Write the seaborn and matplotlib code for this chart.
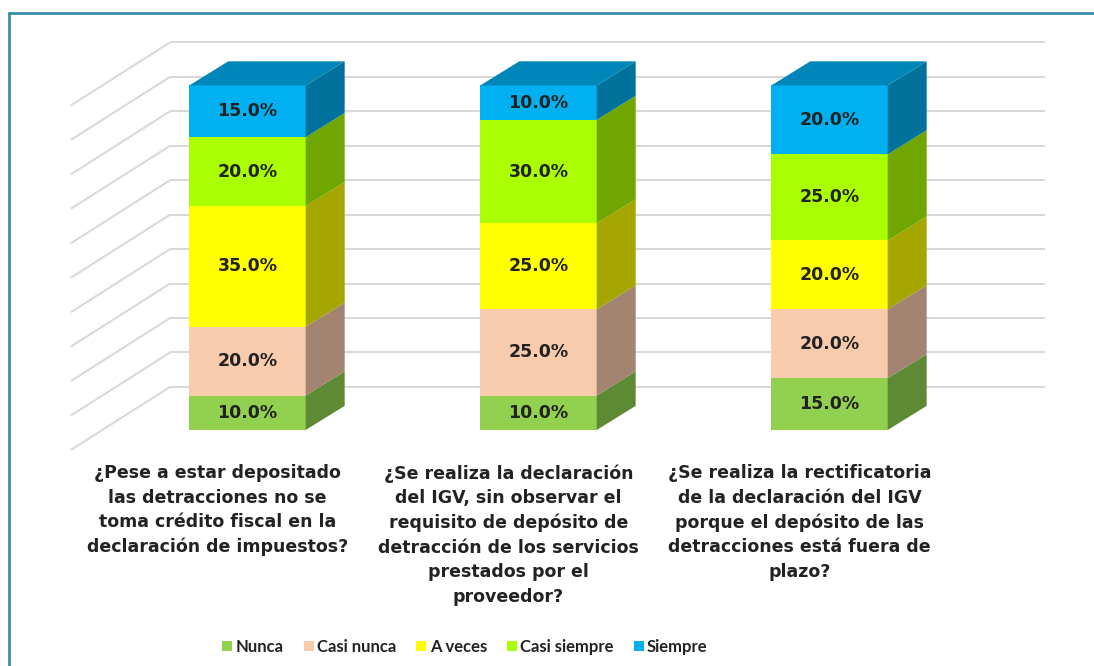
import matplotlib
matplotlib.use("Agg")
import matplotlib.pyplot as plt
from matplotlib.patches import Patch
import numpy as np
import pandas as pd
import seaborn as sns

# ---------------- data ----------------
questions = [
    "¿Pese a estar depositado\nlas detracciones no se\ntoma crédito fiscal en la\ndeclaración de impuestos?",
    "¿Se realiza la declaración\ndel IGV, sin observar el\nrequisito de depósito de\ndetracción de los servicios\nprestados por el\nproveedor?",
    "¿Se realiza la rectificatoria\nde la declaración del IGV\nporque el depósito de las\ndetracciones está fuera de\nplazo?",
]
series = ["Nunca", "Casi nunca", "A veces", "Casi siempre", "Siempre"]
nunca = [10.0, 10.0, 15.0]
casi_nunca = [20.0, 25.0, 20.0]
a_veces = [35.0, 25.0, 20.0]
casi_siempre = [20.0, 30.0, 25.0]
siempre = [15.0, 10.0, 20.0]
grid_ticks = [0, 10, 20, 30, 40, 50, 60, 70, 80, 90, 100]

# ---------------- style ----------------
front_colors = ["#92D050", "#F8CBAD", "#FFFF00", "#AAFF00", "#00B0F0"]
side_colors = ["#5F8A35", "#A38470", "#A6A600", "#6FA600", "#00729C"]
top_color = "#0086B8"
text_color = "#222222"

sns.set_theme(style="white")
plt.rcParams["font.family"] = ["DejaVu Sans"]

fig = plt.figure(figsize=(10.94, 6.66), dpi=100)
ax = fig.add_axes([0, 0, 1, 1])

values = np.array([nunca, casi_nunca, a_veces, casi_siempre, siempre])
cum = np.cumsum(values, axis=0)
bottoms = cum - values
n_cat = len(questions)
xpos = np.arange(n_cat)

bar_w = 0.40
depth_x = 0.134
depth_y = 7.0

# back-wall / side-wall gridlines (depth illusion)
wall_dy = 12.5
wall_x0, wall_x1 = -0.266, 2.741
side_front_x, side_front_dy = -0.607, -5.8
for g in grid_ticks:
    ax.plot([wall_x0, wall_x1], [g + wall_dy, g + wall_dy], color="#D9D9D9", lw=1.5, zorder=0.5,
            solid_capstyle="butt")
    ax.plot([side_front_x, wall_x0], [g + side_front_dy, g + wall_dy], color="#D9D9D9", lw=1.5,
            zorder=0.5, solid_capstyle="butt")

# front faces: cumulative bars drawn from top layer down with seaborn
cats = [f"c{i}" for i in range(n_cat)]
for k in range(len(series) - 1, -1, -1):
    df = pd.DataFrame({"cat": cats, "cum": cum[k]})
    sns.barplot(data=df, x="cat", y="cum", color=front_colors[k], saturation=1,
                width=bar_w, edgecolor="none", linewidth=0, ax=ax, zorder=3)

# side faces and top face
for i in range(n_cat):
    xr = xpos[i] + bar_w / 2
    xl = xpos[i] - bar_w / 2
    for k in range(len(series)):
        b = bottoms[k, i]
        t = cum[k, i]
        ax.fill([xr, xr + depth_x, xr + depth_x, xr],
                [b, b + depth_y, t + depth_y, t],
                color=side_colors[k], lw=0, zorder=3)
        ax.text(xpos[i], (b + t) / 2, f"{values[k, i]:.1f}%", ha="center", va="center",
                fontsize=12.5, fontweight="bold", color=text_color, zorder=5)
    top = cum[-1, i]
    ax.fill([xl, xr, xr + depth_x, xl + depth_x],
            [top, top, top + depth_y, top + depth_y],
            color=top_color, lw=0, zorder=3)
    ax.text(xpos[i] - 0.103, -9.9, questions[i], ha="center", va="top",
            fontsize=12.5, fontweight="bold", color=text_color, linespacing=1.46)

ax.set_xlim(-0.8505, 2.909)
ax.set_ylim(-68.5, 124.8)
ax.axis("off")

# outer frame (left and top edges visible)
fig.add_artist(plt.Line2D([8.5 / 1094, 8.5 / 1094], [0, 1 - 12.5 / 666],
                          transform=fig.transFigure, color="#3A8DAA", lw=2))
fig.add_artist(plt.Line2D([8.5 / 1094, 1], [1 - 12.5 / 666, 1 - 12.5 / 666],
                          transform=fig.transFigure, color="#3A8DAA", lw=2))

handles = [Patch(facecolor=c, edgecolor="none") for c in front_colors]
fig.legend(handles, series, loc="center", bbox_to_anchor=(465 / 1094, 1 - 647 / 666),
           ncol=5, frameon=False, handlelength=0.6, handleheight=0.6, handletextpad=0.2,
           columnspacing=1.2, labelcolor=text_color,
           prop={"family": "Lato", "weight": "bold", "size": 12})

fig.savefig("out.png", dpi=100)
